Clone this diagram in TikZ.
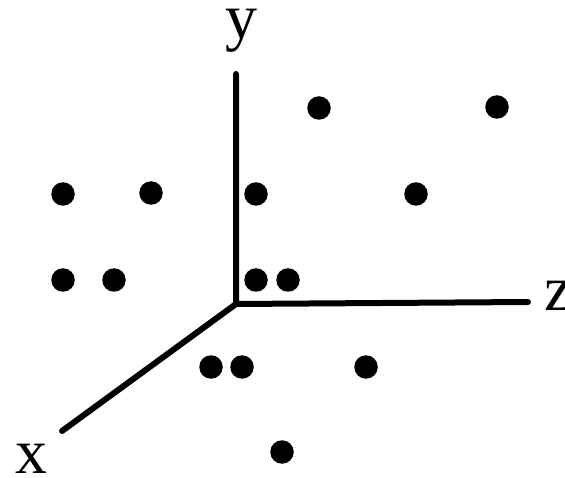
\documentclass[tikz,border=0pt]{standalone}
\usepackage{fontspec}
\setmainfont{Liberation Serif}
\begin{document}
\begin{tikzpicture}[x=1pt,y=-1pt,
  pt/.style={circle,fill=black,inner sep=0pt,minimum size=23.5pt},
  axis/.style={line width=6pt,line cap=round,line join=round},
  lbl/.style={inner sep=0pt,text height=30pt,text depth=4pt,font=\fontsize{64}{64}\selectfont}]
\useasboundingbox (0,0) rectangle (565,478);
\coordinate (o) at (236,304);
\coordinate (ytop) at (236,74);
\coordinate (zend) at (528,302);
\coordinate (xend) at (62,431);
\draw[axis] (ytop) -- (o) -- (zend);
\draw[axis] (o) -- (xend);
\node[lbl,anchor=base] (ly) at (241,39) {y};
\node[lbl,anchor=base] (lx) at (32,473) {x};
\node[lbl,anchor=base west] (lz) at (544,311) {z};
\node[pt] (p1) at (319,108) {};
\node[pt] (p2) at (497,107) {};
\node[pt] (p3) at (63,194) {};
\node[pt] (p4) at (151,193) {};
\node[pt] (p5) at (256,194) {};
\node[pt] (p6) at (416,194) {};
\node[pt] (p7) at (63,280) {};
\node[pt] (p8) at (114,280) {};
\node[pt] (p9) at (256,280) {};
\node[pt] (p10) at (288,280) {};
\node[pt] (p11) at (211,367) {};
\node[pt] (p12) at (242,367) {};
\node[pt] (p13) at (366,367) {};
\node[pt] (p14) at (282,452) {};
\end{tikzpicture}
\end{document}
